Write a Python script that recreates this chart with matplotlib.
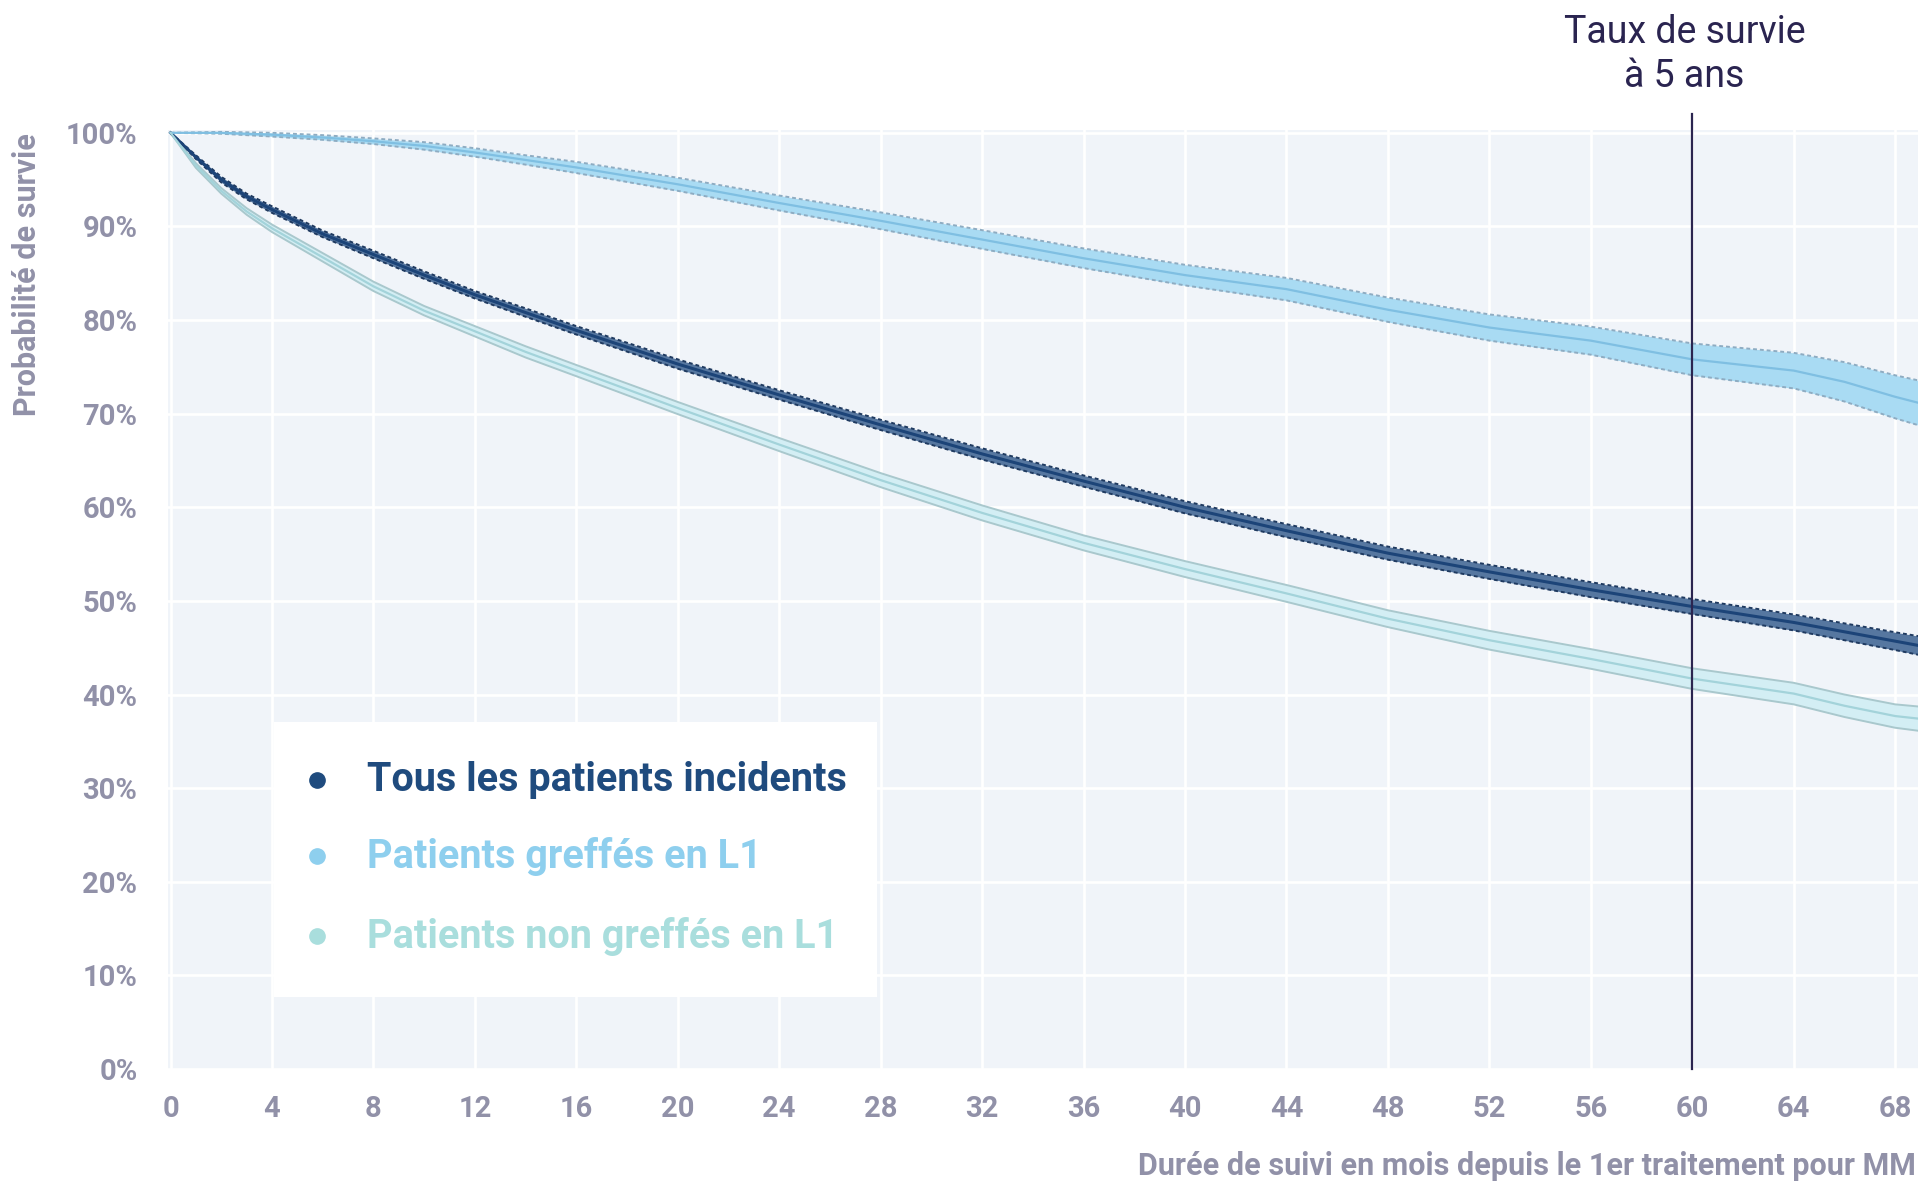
import matplotlib
matplotlib.use("Agg")
import matplotlib.pyplot as plt
from matplotlib.patches import Rectangle

plt.rcParams['font.family'] = ['Roboto', 'DejaVu Sans']

# Kaplan-Meier survival (%) by follow-up month, with 95% CI half-widths
months = [0, 1, 2, 3, 4, 6, 8, 10, 12, 14, 16, 20, 24, 28, 32, 36, 40, 44, 48, 52, 56, 60, 64, 66, 68, 69]

surv_all = [100, 97.4, 95.0, 93.2, 91.8, 89.2, 87.0, 84.8, 82.7, 80.8, 78.9, 75.3, 72.0, 68.8, 65.7,
            62.8, 60.0, 57.5, 55.1, 53.1, 51.2, 49.4, 47.7, 46.7, 45.7, 45.2]
ci_all = [0, 0.2, 0.3, 0.3, 0.35, 0.35, 0.4, 0.4, 0.4, 0.45, 0.45, 0.5, 0.5, 0.55, 0.6,
          0.6, 0.65, 0.7, 0.7, 0.75, 0.8, 0.8, 0.85, 0.9, 0.95, 1.0]

surv_greffe = [100, 100, 100, 99.9, 99.8, 99.5, 99.1, 98.6, 97.9, 97.1, 96.3, 94.5, 92.5, 90.6, 88.6,
               86.6, 84.8, 83.3, 81.1, 79.2, 77.8, 75.8, 74.6, 73.4, 71.8, 71.1]
ci_greffe = [0, 0.05, 0.1, 0.15, 0.2, 0.25, 0.3, 0.4, 0.45, 0.5, 0.6, 0.7, 0.8, 0.9, 1.0,
             1.05, 1.1, 1.2, 1.3, 1.4, 1.5, 1.7, 1.9, 2.1, 2.3, 2.4]

surv_non = [100, 96.5, 93.8, 91.6, 89.8, 86.7, 83.6, 81.0, 78.8, 76.6, 74.6, 70.6, 66.7, 62.9, 59.4,
            56.2, 53.4, 50.8, 48.1, 45.8, 43.8, 41.7, 40.1, 38.8, 37.7, 37.4]
ci_non = [0, 0.25, 0.3, 0.35, 0.4, 0.45, 0.5, 0.5, 0.55, 0.6, 0.6, 0.65, 0.7, 0.75, 0.8,
          0.8, 0.85, 0.9, 0.9, 1.0, 1.05, 1.1, 1.15, 1.2, 1.25, 1.3]

labels = ["Tous les patients incidents", "Patients greffés en L1", "Patients non greffés en L1"]
label_colors = ["#1f4b7e", "#8ecfee", "#a9dedd"]

x_ticks = list(range(0, 69, 4))
y_ticks = list(range(0, 101, 10))

grey = "#9191a8"

fig = plt.figure(figsize=(19.18, 11.82), dpi=100)
ax = fig.add_axes([0.08759, 0.0956, 0.91241, 0.79442])
ax.set_facecolor("#f0f4f9")

series = [
    (surv_all, ci_all, "#1c4478", "#5677a0", "#1f3a60", (0, (2, 1.5)), 2.2),
    (surv_greffe, ci_greffe, "#7fbfe2", "#a9dbf3", "#8eacc2", (0, (2, 1.5)), 1.6),
    (surv_non, ci_non, "#a3d3da", "#d3eef4", "#a9c8cd", "-", 1.6),
]
for surv, ci, line_c, fill_c, edge_c, edge_ls, lw in series:
    lo = [s - c for s, c in zip(surv, ci)]
    hi = [s + c for s, c in zip(surv, ci)]
    ax.fill_between(months, lo, hi, color=fill_c, lw=0, zorder=2)
    ax.plot(months, lo, color=edge_c, lw=1.4, ls=edge_ls, zorder=3)
    ax.plot(months, hi, color=edge_c, lw=1.4, ls=edge_ls, zorder=3)
    ax.plot(months, surv, color=line_c, lw=lw, zorder=4)

ax.set_xlim(-0.1, 68.9)
ax.set_ylim(0, 100.3)
ax.set_xticks(x_ticks)
ax.set_yticks(y_ticks)
ax.set_yticklabels([f"{v}%" for v in y_ticks])
ax.grid(True, color="white", lw=1.9, zorder=0)
ax.set_axisbelow(True)
for sp in ax.spines.values():
    sp.set_visible(False)
ax.tick_params(length=0, labelsize=21, labelcolor=grey)
ax.tick_params(axis="y", pad=22)
ax.tick_params(axis="x", pad=19)
for t in ax.get_xticklabels() + ax.get_yticklabels():
    t.set_fontweight("bold")

ax.set_xlabel("Durée de suivi en mois depuis le 1er traitement pour MM", fontsize=22,
              fontweight="bold", color=grey, loc="right", va="center")
ax.xaxis.set_label_coords(0.9989, -0.1033)
ax.set_ylabel("Probabilité de survie", fontsize=22, fontweight="bold", color=grey, va="center")
ax.yaxis.set_label_coords(-0.0806, 0.8456)

# 5-year marker
ax.plot([60, 60], [0, 102], color="#2b2550", lw=1.6, clip_on=False, zorder=6)
ax.text(59.7, 108.4, "Taux de survie\nà 5 ans", ha="center", va="center", fontsize=27,
        color="#2a2450", linespacing=1.25, clip_on=False)

# legend box
ax.add_patch(Rectangle((0.0606, 0.0767), 0.3446, 0.293, transform=ax.transAxes,
                       facecolor="white", edgecolor="none", zorder=7))
for lab, col, yy in zip(labels, label_colors, [0.3078, 0.2268, 0.1416]):
    ax.plot([0.0851], [yy], "o", color=col, ms=11, transform=ax.transAxes, zorder=8)
    ax.text(0.1137, yy, lab, color=col, fontsize=28.5, fontweight="bold", va="center",
            transform=ax.transAxes, zorder=8)

fig.savefig("out.png", dpi=100)
